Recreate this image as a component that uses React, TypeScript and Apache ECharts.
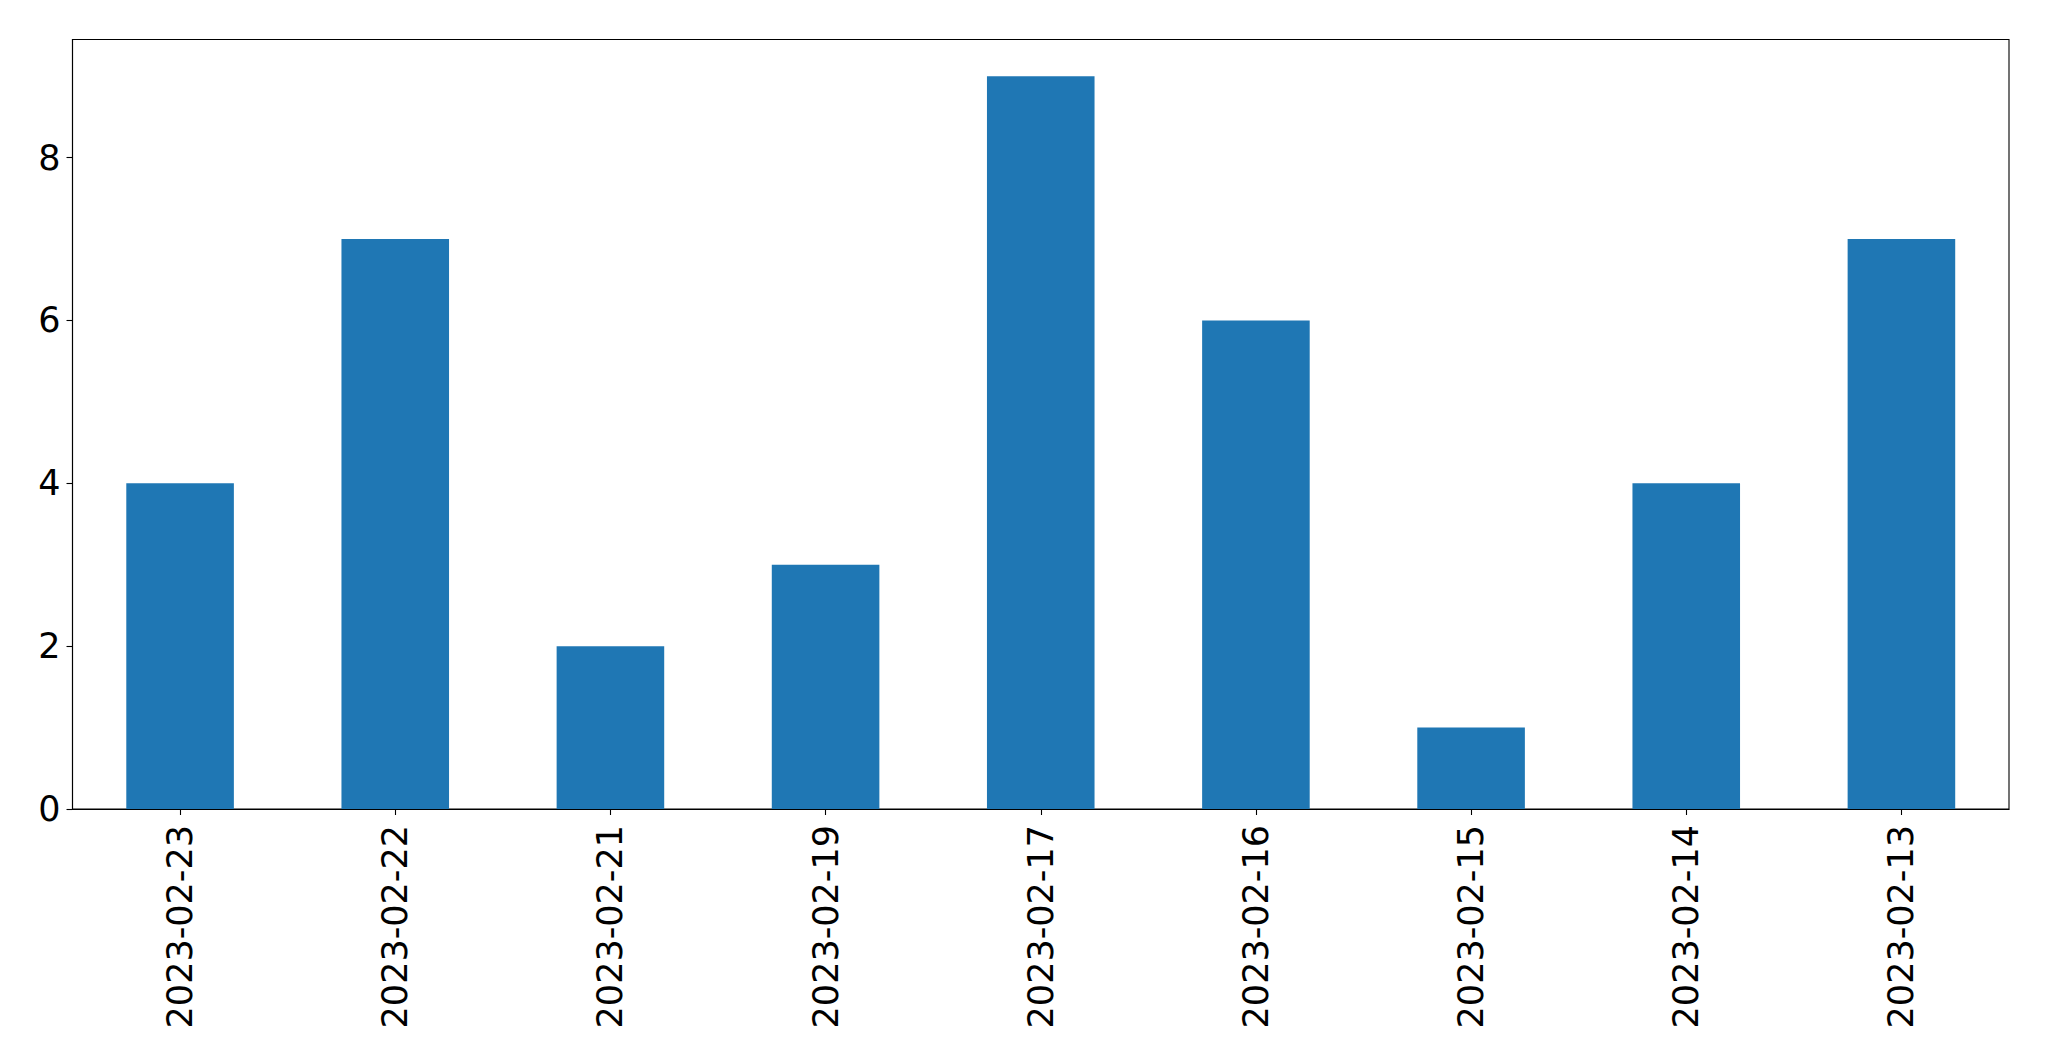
import React, { useEffect, useRef } from "react";
import * as echarts from "echarts";

const categories = [
  "2023-02-23",
  "2023-02-22",
  "2023-02-21",
  "2023-02-19",
  "2023-02-17",
  "2023-02-16",
  "2023-02-15",
  "2023-02-14",
  "2023-02-13",
];
const values = [4, 7, 2, 3, 9, 6, 1, 4, 7];
const yTicks = [0, 2, 4, 6, 8];

const FONT = "DejaVu Sans";

export default function App() {
  const ref = useRef<HTMLDivElement>(null);
  useEffect(() => {
    if (!ref.current) return;
    const chart = echarts.init(ref.current, undefined, { renderer: "svg" });
    chart.setOption({
      animation: false,
      backgroundColor: "#ffffff",
      grid: {
        left: 72.5,
        top: 39.5,
        right: 40,
        bottom: 252,
        show: true,
        borderColor: "#000000",
        borderWidth: 1.1,
        backgroundColor: "transparent",
        containLabel: false,
      },
      xAxis: {
        type: "category",
        data: categories,
        boundaryGap: true,
        axisLine: { show: true, lineStyle: { color: "#000000", width: 1.1 } },
        axisTick: {
          show: true,
          alignWithLabel: true,
          length: 6,
          lineStyle: { color: "#000000", width: 1.1 },
        },
        axisLabel: {
          rotate: 90,
          fontSize: 35,
          fontFamily: FONT,
          color: "#000000",
          margin: 16,
          interval: 0,
        },
        splitLine: { show: false },
      },
      yAxis: {
        type: "value",
        min: 0,
        max: 9.45,
        axisLine: { show: true, lineStyle: { color: "#000000", width: 1.1 } },
        axisTick: {
          show: true,
          length: 6,
          customValues: yTicks,
          lineStyle: { color: "#000000", width: 1.1 },
        },
        axisLabel: {
          fontSize: 35,
          fontFamily: FONT,
          color: "#000000",
          margin: 12,
          customValues: yTicks,
        },
        splitLine: { show: false },
      },
      series: [
        {
          type: "bar",
          data: values,
          barWidth: "50%",
          itemStyle: { color: "#1f77b4" },
        },
      ],
    });
    return () => chart.dispose();
  }, []);
  return (
    <div
      ref={ref}
      style={{ position: "fixed", left: 0, top: 0, width: 2049, height: 1061, background: "#fff" }}
    />
  );
}
